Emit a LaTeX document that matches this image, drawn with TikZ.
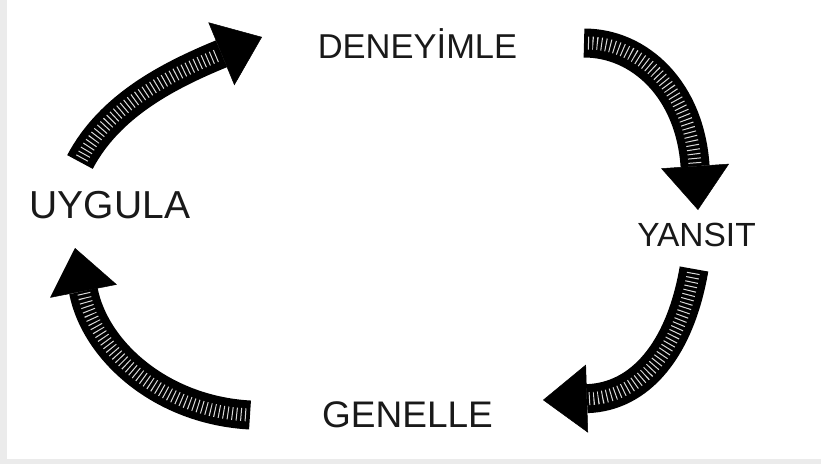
\documentclass[tikz,border=0pt]{standalone}
\usepackage{fontspec}
\setmainfont{Liberation Sans}
\usetikzlibrary{arrows.meta}
\tikzset{lab/.style={text=black!90,inner sep=0pt,font=\fontsize{#1}{#1}\selectfont},body/.style={line width=29pt,draw=black,-{Triangle[length=44pt,width=68pt,line width=0.5pt]}},hatch/.style={draw=black!15,line width=13pt,dash pattern=on 1pt off 3.4pt,shorten >=46pt,shorten <=4pt}}

\begin{document}
\begin{tikzpicture}[x=1pt,y=-1pt]
\fill[black!8] (0,0) rectangle (821,464);
\fill[white] (7,0) rectangle (821,459);
\useasboundingbox (0,0) rectangle (821,464);
\node[lab=34.5] (dene) at (417.5,43.5) {DENEYİMLE};
\node[lab=33.5] (yans) at (696.5,234.5) {YANSIT};
\node[lab=37] (gene) at (407.5,415) {GENELLE};
\node[lab=39] (uygu) at (110,205.5) {UYGULA};
\coordinate (ta) at (80,162);\coordinate (ha) at (262,37);
\coordinate (tb) at (584,43);\coordinate (hb) at (698,210);
\coordinate (tc) at (694,269);\coordinate (hc) at (543,400);
\coordinate (td) at (250,415);\coordinate (hd) at (75,248);
\draw[body](ta) .. controls (110,105) and (170,75) .. (ha);
\draw[hatch](ta) .. controls (110,105) and (170,75) .. (ha);
\draw[body](tb) .. controls (640,43) and (690,90) .. (hb);
\draw[hatch](tb) .. controls (640,43) and (690,90) .. (hb);
\draw[body](tc) .. controls (680,350) and (640,397) .. (hc);
\draw[hatch](tc) .. controls (680,350) and (640,397) .. (hc);
\draw[body](td) .. controls (160,410) and (95,350) .. (hd);
\draw[hatch](td) .. controls (160,410) and (95,350) .. (hd);
\end{tikzpicture}
\end{document}
